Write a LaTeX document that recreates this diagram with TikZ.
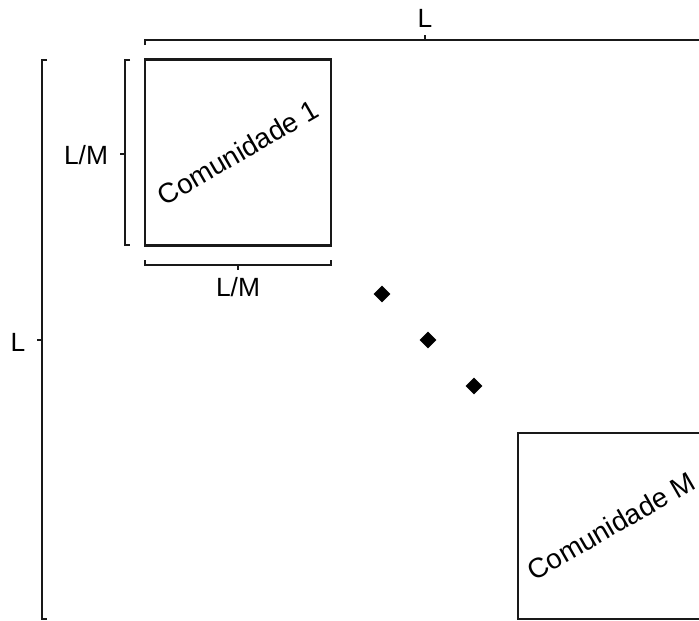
\documentclass[tikz,border=0pt]{standalone}
\usepackage{fontspec}
\setmainfont{Liberation Sans}
\usepackage{tikz}
\usetikzlibrary{shapes.geometric,positioning}

\begin{document}
\begin{tikzpicture}[x=0.02cm, y=-0.02cm,
    every node/.style={font=\fontsize{15}{17}\selectfont},
    line/.style={line width=1.4pt, black!90},
    commbox/.style={draw, line width=1.4pt, black!90, minimum size=3.72cm, inner sep=0pt},
    commtext/.style={rotate=30, font=\fontsize{15.8}{18}\selectfont},
    dot/.style={diamond, fill=black, inner sep=0pt, minimum width=0.34cm, minimum height=0.34cm}]
    \useasboundingbox (0,0) rectangle (699,620);

    % communities
    \node[commbox] (com1) at (238,152.5) {};
    \node[commtext] (com1txt) at (com1.center) {Comunidade 1};
    \node[commbox] (comM) at (611,526) {};
    \node[commtext] (comMtxt) at (comM.center) {Comunidade M};

    % dots in between
    \node[dot] (d1) at (382,294) {};
    \node[dot] (d2) at (428,340) {};
    \node[dot] (d3) at (474,386) {};

    % brackets for L
    \draw[line] (145,45) -- (145,40) -- (704,40);
    \draw[line] (425,40) -- (425,35);
    \node (Ltop) at (425,18) {L};
    \draw[line] (47,60) -- (42,60) -- (42,619) -- (47,619);
    \draw[line] (42,340) -- (37,340);
    \node (Lleft) at (18,342) {L};

    % brackets for L/M
    \draw[line] (130,60) -- (125,60) -- (125,245) -- (130,245);
    \draw[line] (125,154) -- (120,154);
    \node (LMleft) at (86,155) {L/M};
    \draw[line] (145,260) -- (145,265) -- (331,265) -- (331,260);
    \draw[line] (238,265) -- (238,270);
    \node (LMbot) at (238,287) {L/M};
\end{tikzpicture}
\end{document}
